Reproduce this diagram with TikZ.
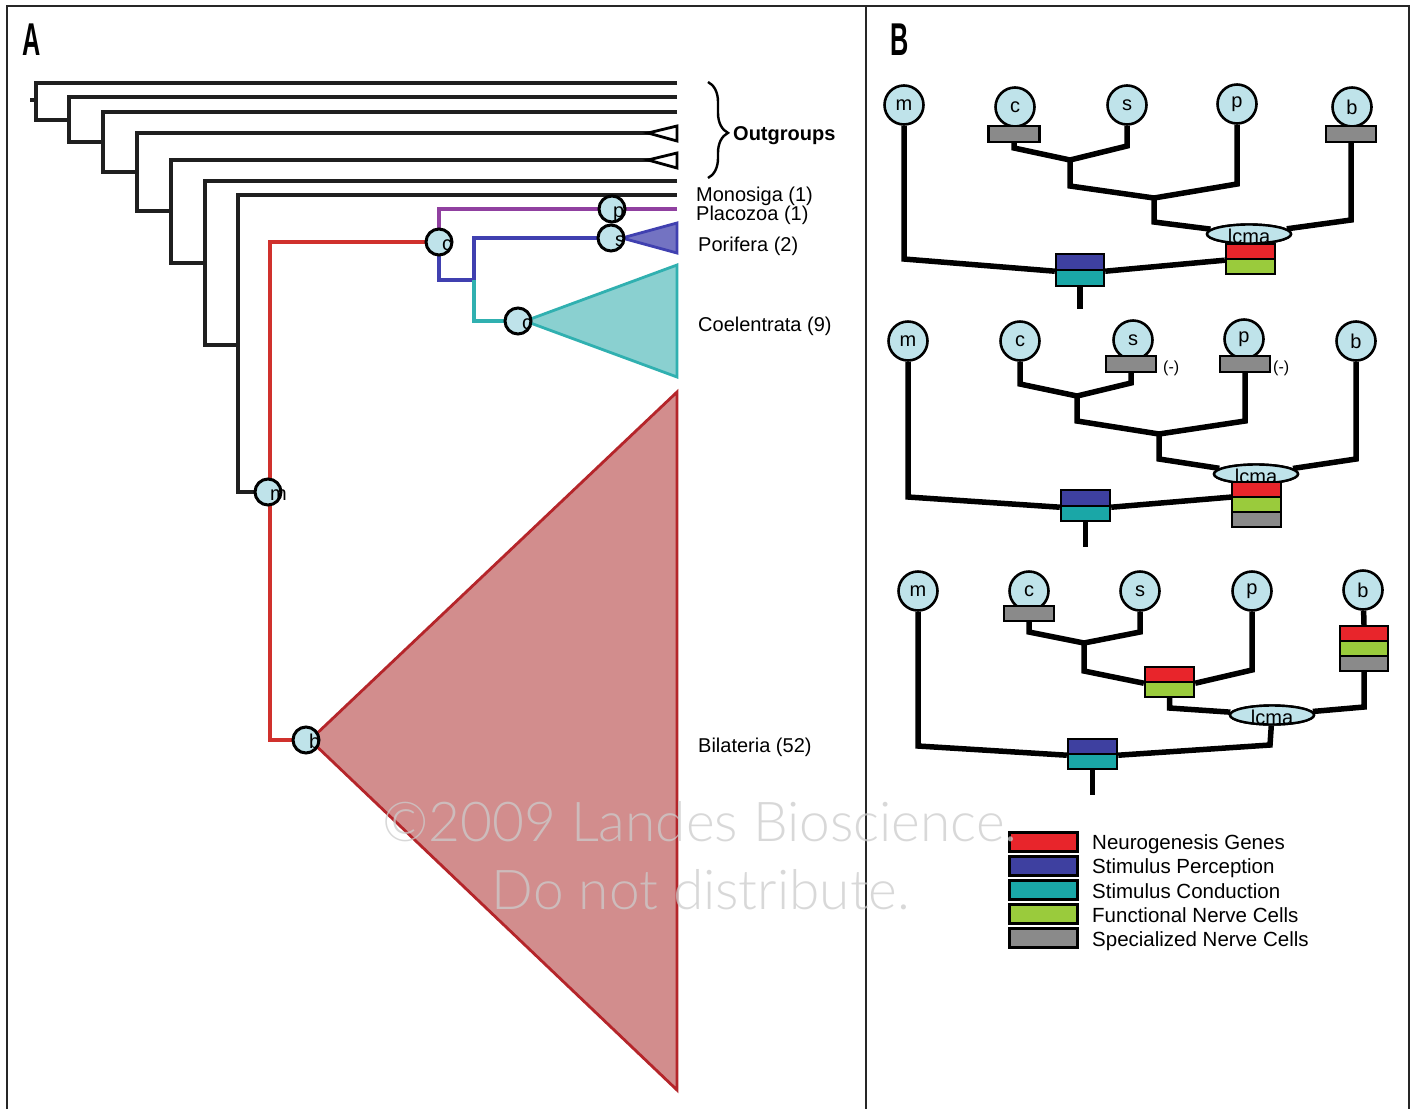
\documentclass[tikz,border=0pt]{standalone}
\usepackage{fontspec}
\setmainfont{Liberation Sans}
\newfontfamily\wmfont{Lato Light}
\usetikzlibrary{decorations.pathreplacing,shapes.geometric}
\definecolor{cfill}{HTML}{BFE3EA}
\definecolor{redl}{HTML}{D0312D}
\definecolor{redf}{HTML}{D28D8D}
\definecolor{redo}{HTML}{B5252A}
\definecolor{purl}{HTML}{9040A0}
\definecolor{bluel}{HTML}{4040B0}
\definecolor{bluef}{HTML}{7373C2}
\definecolor{teall}{HTML}{30B0B0}
\definecolor{tealf}{HTML}{8AD0D0}
\definecolor{kred}{HTML}{E8252B}
\definecolor{kblue}{HTML}{3E40A0}
\definecolor{kteal}{HTML}{1AA7A7}
\definecolor{kgreen}{HTML}{9ACB3C}
\definecolor{kgray}{HTML}{8A8A8A}
\begin{document}
\begin{tikzpicture}[x=1pt,y=-1pt,line join=miter,
  tl/.style={line width=3.6pt,black!88},
  cl/.style={line width=3.2pt},
  acirc/.style={circle,draw,line width=3pt,fill=cfill,minimum size=26pt,inner sep=0pt},
  alab/.style={anchor=base west,inner sep=0pt,font=\fontsize{20}{20}\selectfont},
  tlab/.style={anchor=base west,inner sep=0pt,font=\fontsize{20}{20}\selectfont},
  bc/.style={circle,draw,line width=2.6pt,fill=cfill,minimum size=39pt,inner sep=0pt,font=\fontsize{20}{20}\selectfont},
  bl/.style={line width=5.5pt,black},
  band/.style={draw,line width=2.4pt,minimum width=49pt,minimum height=15pt,inner sep=0pt},
  lc/.style={ellipse,draw,line width=2.4pt,fill=cfill,minimum width=84pt,minimum height=19pt,inner sep=0pt},
  lct/.style={inner sep=0pt,font=\fontsize{20}{20}\selectfont},
  minus/.style={anchor=base west,inner sep=0pt,font=\fontsize{16}{16}\selectfont},
  legbox/.style={draw,line width=3pt,minimum width=68pt,minimum height=19pt,inner sep=0pt},
  legt/.style={anchor=base west,inner sep=0pt,font=\fontsize{20.5}{20.5}\selectfont},
  wm/.style={inner sep=0pt,text=black!20,text opacity=0.75,font=\wmfont\fontsize{55}{55}\selectfont}
]
\useasboundingbox (0,0) rectangle (1415,1109);
\fill[white] (0,0) rectangle (1415,1109);

% ---------- Frame ----------
\draw[line width=2.8pt,black!85] (7,1109) -- (7,6) -- (1409,6) -- (1409,1109);
\draw[line width=2.8pt,black!85] (866,6) -- (866,1109);
\node[inner sep=0pt,xscale=0.55,font=\fontsize{46}{46}\selectfont\bfseries] (labA) at (31.5,40) {A};
\node[inner sep=0pt,xscale=0.55,font=\fontsize{46}{46}\selectfont\bfseries] (labB) at (900,40) {B};

% ---------- Panel A: coordinates ----------
\coordinate (root) at (30,100);
\coordinate (L1) at (677,83);
\coordinate (L2) at (677,97);
\coordinate (L3) at (677,112);
\coordinate (L4) at (677,133);
\coordinate (L5) at (677,160);
\coordinate (L6) at (677,181);
\coordinate (L7) at (677,195);
\coordinate (Lp) at (677,209);
\coordinate (J1) at (36,100);
\coordinate (J2) at (69,120);
\coordinate (J3) at (103,142);
\coordinate (J4) at (137,172);
\coordinate (J5) at (171,211);
\coordinate (J6) at (205,263);
\coordinate (J7) at (238,345);
\coordinate (Jbt) at (474,280);

% black backbone
\draw[tl] (root) -- (J1);
\draw[tl] (L1) -| (36,120) -- (J2);
\draw[tl] (L2) -| (69,142) -- (J3);
\draw[tl] (L3) -| (103,172) -- (J4);
\draw[tl] (L4) -| (137,211) -- (J5);
\draw[tl] (L5) -| (171,263) -- (J6);
\draw[tl] (L6) -| (205,345) -- (J7);
\draw[tl] (L7) -| (238,492) -- (270,492);

% circle positions
\coordinate (mA) at (268,492);
\coordinate (bA) at (306,740);
\coordinate (cA) at (439,242);
\coordinate (pA) at (612,209);
\coordinate (sA) at (611,238);
\coordinate (ccA) at (518,321);

% coloured branches
\draw[cl,redl] (cA) -| (270,740) -- (bA);
\draw[cl,purl] (Lp) -| (cA);
\draw[cl,bluel] (cA) |- (Jbt) |- (sA);
\draw[cl,teall] (Jbt) |- (ccA);

% triangles
\filldraw[fill=white,draw=black,line width=2.8pt] (648,133) -- (677,126) -- (677,141) -- cycle;
\filldraw[fill=white,draw=black,line width=2.8pt] (648,160) -- (677,153) -- (677,168) -- cycle;
\filldraw[fill=bluef,draw=bluel,line width=2.8pt] (622,238) -- (677,223) -- (677,253) -- cycle;
\filldraw[fill=tealf,draw=teall,line width=2.8pt] (525,321) -- (677,265) -- (677,377) -- cycle;
\filldraw[fill=redf,draw=redo,line width=2.8pt] (310,740) -- (677,392) -- (677,1090) -- cycle;

% circles with letters
\node[acirc] (nm) at (mA) {};
\node[alab] at (270,500) {m};
\node[acirc] (nb) at (bA) {};
\node[alab] at (309,748) {b};
\node[acirc] (nc) at (cA) {};
\node[alab] at (442,250) {c};
\node[acirc] (ncc) at (ccA) {};
\node[alab] at (522,329) {c};
\node[acirc] (np) at (pA) {};
\node[alab] at (613,217) {p};
\node[acirc] (ns) at (sA) {};
\node[alab] at (615,246) {s};

% brace and labels
\draw[decorate,decoration={brace,amplitude=20pt,aspect=0.53},line width=2.4pt] (708,82) -- (708,178);
\node[tlab,font=\fontsize{20}{20}\selectfont\bfseries] (og) at (733,140) {Outgroups};
\node[tlab] (tmono) at (696,201) {Monosiga (1)};
\node[tlab] (tpla) at (696,220) {Placozoa (1)};
\node[tlab] (tpor) at (698,251) {Porifera (2)};
\node[tlab] (tcoe) at (698,331) {Coelentrata (9)};
\node[tlab] (tbil) at (698,752) {Bilateria (52)};

% ---------- Panel B, tree 1 ----------
\node[lc] (l1) at (1249,234) {};
\coordinate (j1a) at (1070,160);
\coordinate (j1b) at (1154,198);
\node[bc] (m1) at (904,105) {m};
\node[bc] (c1) at (1015,107) {c};
\node[bc] (s1) at (1127,105) {s};
\node[bc] (p1) at (1237,104) {p};
\node[bc] (b1) at (1352,107) {b};
\node[band,fill=kblue,minimum width=48pt,minimum height=16pt] (bt1a) at (1080,262) {};
\node[band,fill=kteal,minimum width=48pt,minimum height=16pt] (bt1b) at (1080,278) {};
\node[band,fill=kred] (rg1a) at (1250.5,251.5) {};
\node[band,fill=kgreen] (rg1b) at (1250.5,266.5) {};
\node[band,fill=kgray,minimum width=51pt,minimum height=16pt] (g1c) at (1014,134) {};
\node[band,fill=kgray,minimum width=50pt,minimum height=16pt] (g1b) at (1351,134) {};
\draw[bl] (g1c.south) -- (1014,148) -- (j1a);
\draw[bl] (s1) -- (1127,146) -- (j1a);
\draw[bl] (j1a) -- (1070,186) -- (j1b);
\draw[bl] (p1) -- (1237,184) -- (j1b);
\draw[bl] (j1b) -- (1154,222) -- (l1);
\draw[bl] (g1b.south) -- (1351,220) -- (l1);
\draw[bl] (m1) -- (904,259) -- (bt1a.south west);
\draw[bl] (bt1a.south east) -- (rg1a.south west);
\draw[bl] (bt1b.south) -- (1080,309);
% nodes on top of the lines
\node[lc] at (l1) {};
\node[lct] at (1249,236) {lcma};
\node[band,fill=kgray,minimum width=51pt,minimum height=16pt] at (g1c) {};
\node[band,fill=kgray,minimum width=50pt,minimum height=16pt] at (g1b) {};
\node[band,fill=kblue,minimum width=48pt,minimum height=16pt] at (bt1a) {};
\node[band,fill=kteal,minimum width=48pt,minimum height=16pt] at (bt1b) {};
\node[band,fill=kred] at (rg1a) {};
\node[band,fill=kgreen] at (rg1b) {};

% ---------- Panel B, tree 2 ----------
\node[lc] (l2) at (1256,474) {};
\coordinate (j2a) at (1077,396);
\coordinate (j2b) at (1159,434);
\node[bc] (m2) at (908,341) {m};
\node[bc] (c2) at (1020,341) {c};
\node[bc] (s2) at (1133,340) {s};
\node[bc] (p2) at (1244,339) {p};
\node[bc] (b2) at (1356,341) {b};
\node[band,fill=kgray,minimum width=50pt,minimum height=16pt] (g2s) at (1131,364) {};
\node[band,fill=kgray,minimum width=50pt,minimum height=16pt] (g2p) at (1245,364) {};
\node[minus] at (1163,372) {(-)};
\node[minus] at (1273,372) {(-)};
\node[band,fill=kblue,minimum height=16pt] (bt2a) at (1085.5,498) {};
\node[band,fill=kteal] (bt2b) at (1085.5,513.5) {};
\draw[bl] (c2) -- (1020,384) -- (j2a);
\draw[bl] (g2s.south) -- (1131,383) -- (j2a);
\draw[bl] (j2a) -- (1077,421) -- (j2b);
\draw[bl] (g2p.south) -- (1245,421) -- (j2b);
\draw[bl] (j2b) -- (1159,459) -- (l2);
\draw[bl] (b2) -- (1356,459) -- (l2);
\draw[bl] (m2) -- (908,497) -- (bt2a.south west);
\coordinate (st2) at (1232,497);
\draw[bl] (bt2a.south east) -- (st2);
\draw[bl] (bt2b.south) -- (1085.5,547);
\node[lc] at (l2) {};
\node[lct] at (1256,476) {lcma};
\node[band,fill=kred] (rg2a) at (1256.5,489.5) {};
\node[band,fill=kgreen] (rg2b) at (1256.5,504.5) {};
\node[band,fill=kgray] (rg2c) at (1256.5,519.5) {};
\node[band,fill=kblue,minimum height=16pt] at (bt2a) {};
\node[band,fill=kteal] at (bt2b) {};

% ---------- Panel B, tree 3 ----------
\node[lc] (l3) at (1272,715) {};
\coordinate (j3a) at (1084,643);
\node[bc] (m3) at (918,591) {m};
\node[bc] (c3) at (1029,591) {c};
\node[bc] (s3) at (1140,591) {s};
\node[bc] (p3) at (1252,591) {p};
\node[bc] (b3) at (1363,590) {b};
\node[band,fill=kgray,minimum width=50pt] (g3c) at (1029,613.5) {};
\node[band,fill=kred] (rg3a) at (1169.5,674.5) {};
\node[band,fill=kgreen] (rg3b) at (1169.5,689.5) {};
\node[band,fill=kred,minimum width=48pt] (b3r) at (1364,633.5) {};
\node[band,fill=kgreen,minimum width=48pt] (b3g) at (1364,648.5) {};
\node[band,fill=kgray,minimum width=48pt] (b3y) at (1364,663.5) {};
\node[band,fill=kblue] (bt3a) at (1092.5,746.5) {};
\node[band,fill=kteal] (bt3b) at (1092.5,761.5) {};
\draw[bl] (g3c.south) -- (1029,632) -- (j3a);
\draw[bl] (s3) -- (1140,632) -- (j3a);
\draw[bl] (j3a) -- (1084,671) -- (rg3a.south west);
\draw[bl] (p3) -- (1252,670) -- (rg3a.south east);
\draw[bl] (rg3b.south) -- (1169.5,708) -- (l3);
\draw[bl] (b3) -- (b3r.north);
\draw[bl] (b3y.south) -- (1364,707) -- (l3);
\draw[bl] (l3) -- (1270,745) -- (bt3a.south east);
\draw[bl] (m3) -- (918,746) -- (bt3a.south west);
\draw[bl] (bt3b.south) -- (1092.5,795);
\node[lc] at (l3) {};
\node[lct] at (1272,717) {lcma};
\node[band,fill=kgray,minimum width=50pt] at (g3c) {};
\node[band,fill=kred] at (rg3a) {};
\node[band,fill=kgreen] at (rg3b) {};
\node[band,fill=kred,minimum width=48pt] at (b3r) {};
\node[band,fill=kgreen,minimum width=48pt] at (b3g) {};
\node[band,fill=kgray,minimum width=48pt] at (b3y) {};
\node[band,fill=kblue] at (bt3a) {};
\node[band,fill=kteal] at (bt3b) {};

% ---------- Legend ----------
\node[legbox,fill=kred] (k1) at (1043.5,842) {};
\node[legbox,fill=kblue] (k2) at (1043.5,865.5) {};
\node[legbox,fill=kteal] (k3) at (1043.5,890) {};
\node[legbox,fill=kgreen] (k4) at (1043.5,914) {};
\node[legbox,fill=kgray] (k5) at (1043.5,937.5) {};
\node[legt] (t1) at (1092,849) {Neurogenesis Genes};
\node[legt] (t2) at (1092,873) {Stimulus Perception};
\node[legt] (t3) at (1092,898) {Stimulus Conduction};
\node[legt] (t4) at (1092,922) {Functional Nerve Cells};
\node[legt] (t5) at (1092,946) {Specialized Nerve Cells};

% ---------- Watermark ----------
\node[wm] (w1) at (700,822) {©2009 Landes Bioscience.};
\node[wm] (w2) at (701,890) {Do not distribute.};
\end{tikzpicture}
\end{document}
